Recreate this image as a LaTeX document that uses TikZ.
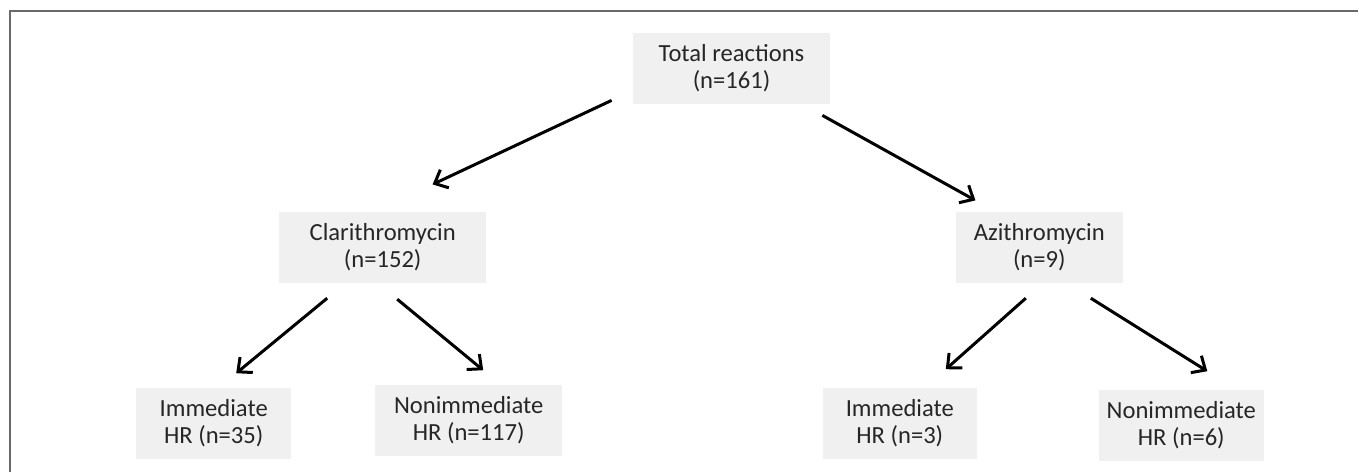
\documentclass[tikz,border=0pt]{standalone}
\usepackage{fontspec}
\setmainfont{Carlito}
\usepackage{xcolor}
\usetikzlibrary{arrows.meta, positioning}
\definecolor{boxgray}{HTML}{F0F0F0}
\definecolor{textgray}{HTML}{262626}
\definecolor{framegray}{HTML}{6A6A6A}

\begin{document}
\begin{tikzpicture}[
  x=0.5pt, y=-0.5pt,
  box/.style={rectangle, fill=boxgray, text=textgray, align=center, minimum height=35.5pt, inner sep=2pt, font=\fontsize{12.3}{13.5}\selectfont},
  arrow/.style={-{Straight Barb[length=5.5pt, width=10pt, line width=1.5pt]}, line width=1.5pt, draw=black}
]
\useasboundingbox (0,0) rectangle (1359,472);
\draw[framegray, line width=1pt] (10,472) -- (10,11) -- (1358,11);

\node[box, minimum width=98.5pt] (total) at (731.5,68.5) {Total reactions\\(n=161)};
\node[box, minimum width=103.5pt, below left=53.5pt and 73pt of total] (clar) {Clarithromycin\\(n=152)};
\node[box, minimum width=83.5pt, below right=53.5pt and 62.5pt of total] (azi) {Azithromycin\\(n=9)};
\node[box, minimum width=77.5pt, below=52pt of clar, xshift=-84.5pt] (clarimm) {Immediate\\HR (n=35)};
\node[box, minimum width=93.5pt, below=50.5pt of clar, xshift=43pt] (clarnon) {Nonimmediate\\HR (n=117)};
\node[box, minimum width=77pt, below=52pt of azi, xshift=-69.75pt] (aziimm) {Immediate\\HR (n=3)};
\node[box, minimum width=82.5pt, below=53pt of azi, xshift=71pt] (azinon) {Nonimmediate\\HR (n=6)};

\draw[arrow] ([xshift=-10.5pt, yshift=2pt]total.south west) -- ([xshift=-27pt, yshift=13.5pt]clar.north east);
\draw[arrow] ([xshift=-4pt, yshift=-5.5pt]total.south east) -- ([xshift=10pt, yshift=5.5pt]azi.north west);
\draw[arrow] ([xshift=-27.75pt, yshift=-7.5pt]clar.south) -- ([xshift=11.25pt, yshift=7pt]clarimm.north);
\draw[arrow] ([xshift=7.25pt, yshift=-8pt]clar.south) -- ([xshift=7.25pt, yshift=7pt]clarnon.north);
\draw[arrow] ([xshift=-6.75pt, yshift=-7.5pt]azi.south) -- ([xshift=23pt, yshift=9pt]aziimm.north);
\draw[arrow] ([xshift=25.75pt, yshift=-7.5pt]azi.south) -- ([xshift=13pt, yshift=9pt]azinon.north);
\end{tikzpicture}
\end{document}
